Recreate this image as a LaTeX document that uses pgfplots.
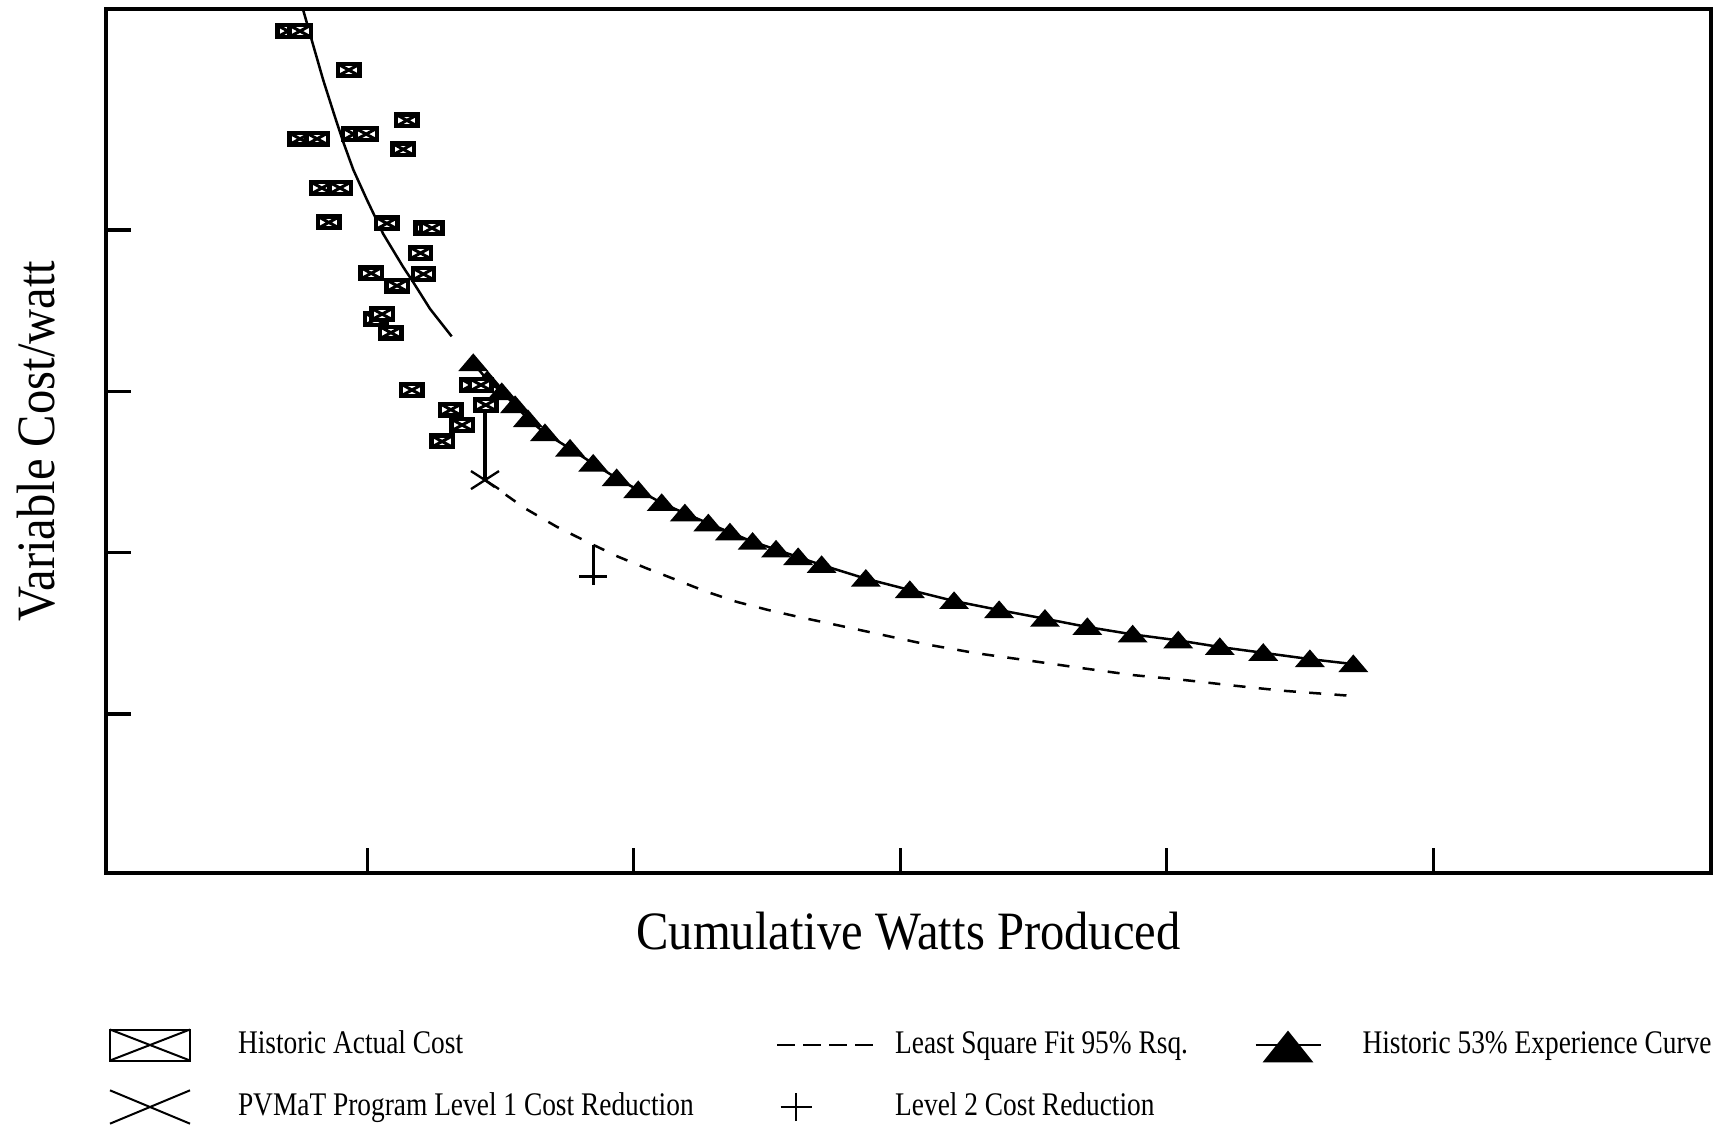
\documentclass[border=0pt]{standalone}
\usepackage{pgfplots}
\pgfplotsset{compat=1.18}
\usepackage{fontspec}
\setmainfont{Liberation Serif}
\newfontfamily\labfont{Liberation Serif}[FakeStretch=0.9]
\newfontfamily\legfont{Liberation Serif}[FakeStretch=0.83]

\pgfdeclareplotmark{boxx}{%
  \pgfsetlinewidth{1.3pt}%
  \pgfsetfillcolor{white}%
  \pgfpathrectangle{\pgfqpoint{-3.2pt}{-1.75pt}}{\pgfqpoint{6.4pt}{3.5pt}}%
  \pgfusepath{fill,stroke}%
  \pgfsetlinewidth{0.9pt}%
  \pgfpathmoveto{\pgfqpoint{-3.2pt}{-1.75pt}}\pgfpathlineto{\pgfqpoint{3.2pt}{1.75pt}}%
  \pgfpathmoveto{\pgfqpoint{-3.2pt}{1.75pt}}\pgfpathlineto{\pgfqpoint{3.2pt}{-1.75pt}}%
  \pgfusepathqstroke}
\pgfdeclareplotmark{ftri}{%
  \pgfsetfillcolor{black}%
  \pgfpathmoveto{\pgfqpoint{-4.5pt}{-2.4pt}}\pgfpathlineto{\pgfqpoint{4.5pt}{-2.4pt}}%
  \pgfpathlineto{\pgfqpoint{0pt}{2.9pt}}\pgfpathclose
  \pgfusepathqfill}
\pgfdeclareplotmark{wx}{%
  \pgfsetlinewidth{0.7pt}%
  \pgfpathmoveto{\pgfqpoint{-4.2pt}{-2.7pt}}\pgfpathlineto{\pgfqpoint{4.2pt}{2.7pt}}%
  \pgfpathmoveto{\pgfqpoint{-4.2pt}{2.7pt}}\pgfpathlineto{\pgfqpoint{4.2pt}{-2.7pt}}%
  \pgfusepathqstroke}
\pgfdeclareplotmark{wplus}{%
  \pgfsetlinewidth{0.8pt}%
  \pgfpathmoveto{\pgfqpoint{-4.2pt}{0pt}}\pgfpathlineto{\pgfqpoint{4.2pt}{0pt}}%
  \pgfpathmoveto{\pgfqpoint{0pt}{-2.4pt}}\pgfpathlineto{\pgfqpoint{0pt}{2.4pt}}%
  \pgfusepathqstroke}

\begin{document}
\begin{tikzpicture}
\begin{axis}[
  scale only axis, width=481.5pt, height=259.2pt,
  xmin=0.020, xmax=6.042, ymin=0.016, ymax=5.368,
  xtick={1,2,3,4,5}, ytick={1,2,3,4},
  xticklabels={}, yticklabels={},
  tick align=inside, xtick pos=left, ytick pos=left,
  major tick length=7.5pt,
  axis line style={line width=1.1pt},
  tick style={line width=1pt, black},
  xlabel={Cumulative Watts Produced},
  ylabel={Variable Cost/watt},
  xlabel style={font=\labfont\fontsize{16.2pt}{19pt}\selectfont, at={(axis description cs:0.5,-0.0891)}, anchor=base},
  ylabel style={font=\labfont\fontsize{16.2pt}{19pt}\selectfont, at={(axis description cs:-0.0320,0.5)}, anchor=base},
  legend columns=3, legend cell align=left,
  legend style={draw=none, fill=none, inner sep=0pt, outer sep=0pt,
    at={(0.00187,-0.16435)}, anchor=north west, row sep=0.6pt, column sep=0pt,
    nodes={inner sep=0pt, outer sep=0pt},
    font=\legfont\fontsize{9.9pt}{11pt}\selectfont},
]
% upper part of experience curve (no markers)
\addplot[forget plot, black, line width=0.75pt] coordinates {
(0.748,5.44) (0.760,5.361) (0.792,5.175) (0.835,4.928) (0.879,4.700) (0.910,4.545)
(0.948,4.372) (0.998,4.19) (1.060,3.975) (1.135,3.77) (1.173,3.675) (1.236,3.51) (1.317,3.34)};
% historic 53% experience curve
\addplot[forget plot, black, line width=0.75pt, mark=ftri] coordinates {
(1.398,3.175) (1.451,3.070) (1.505,2.995) (1.555,2.915) (1.603,2.828) (1.667,2.741)
(1.761,2.645) (1.848,2.552) (1.936,2.462) (2.017,2.388) (2.105,2.308) (2.192,2.244)
(2.280,2.182) (2.361,2.126) (2.446,2.068) (2.534,2.020) (2.617,1.973) (2.705,1.924)
(2.871,1.839) (3.036,1.769) (3.202,1.701) (3.371,1.645) (3.543,1.591) (3.702,1.540)
(3.872,1.494) (4.043,1.457) (4.199,1.416) (4.362,1.380) (4.537,1.341) (4.700,1.310)};
% least square fit
\addplot[forget plot, black, line width=0.75pt, dash pattern=on 3.6pt off 4pt] coordinates {
(1.442,2.450) (1.592,2.275) (1.711,2.161) (1.824,2.068) (1.942,1.975) (2.049,1.903)
(2.161,1.831) (2.274,1.758) (2.386,1.696) (2.505,1.645) (2.617,1.603) (2.793,1.541)
(3.099,1.432) (3.287,1.377) (3.487,1.331) (3.674,1.287) (3.873,1.242) (4.068,1.211)
(4.256,1.176) (4.436,1.145) (4.720,1.110)};
% drop lines
\addplot[forget plot, black, line width=1pt] coordinates {(1.442,2.93) (1.442,2.450)};
\addplot[forget plot, black, line width=0.8pt] coordinates {(1.848,2.049) (1.848,1.851)};
% historic actual cost
\addplot[forget plot, only marks, mark=boxx] coordinates {
(0.703,5.231) (0.748,5.231) (0.931,4.990) (1.149,4.678) (1.135,4.499)
(0.748,4.564) (0.812,4.564) (0.950,4.593) (0.996,4.593) (0.830,4.259) (0.898,4.259)
(0.856,4.046) (1.074,4.040) (1.221,4.011) (1.243,4.011) (1.200,3.856) (1.015,3.731)
(1.211,3.726) (1.112,3.654) (1.033,3.447) (1.056,3.478) (1.089,3.363) (1.168,3.008)
(1.314,2.886) (1.356,2.791) (1.281,2.689) (1.393,3.039) (1.427,3.039) (1.445,2.915)};
% level 1 and level 2
\addplot[forget plot, only marks, mark=wx] coordinates {(1.442,2.450)};
\addplot[forget plot, only marks, mark=wplus] coordinates {(1.848,1.851)};
% legend
\addlegendimage{legend image code/.code={
  \draw[black, line width=0.6pt] (0pt,-4.65pt) rectangle (24pt,4.65pt);
  \draw[black, line width=0.6pt] (0pt,-4.65pt) -- (24pt,4.65pt) (0pt,4.65pt) -- (24pt,-4.65pt);
  \path[draw=none, fill=none] (0pt,-9pt) rectangle (38.4pt,9pt);}}
\addlegendentry[text width=161.4pt, align=flush left]{Historic Actual Cost}
\addlegendimage{legend image code/.code={
  \draw[black, line width=0.7pt, dash pattern=on 5.4pt off 2.4pt] (0pt,0pt) -- (28.8pt,0pt);
  \path[draw=none, fill=none] (0pt,-9pt) rectangle (35.4pt,9pt);}}
\addlegendentry[text width=107.7pt, align=flush left]{Least Square Fit 95\% Rsq.}
\addlegendimage{legend image code/.code={
  \draw[black, line width=0.8pt] (0pt,0pt) -- (19.5pt,0pt);
  \fill[black] (2.55pt,-5pt) -- (16.95pt,-5pt) -- (9.75pt,4pt) -- cycle;
  \path[draw=none, fill=none] (0pt,-9pt) rectangle (32.1pt,9pt);}}
\addlegendentry[text width=110pt, align=flush left]{Historic 53\% Experience Curve}
\addlegendimage{legend image code/.code={
  \draw[black, line width=0.6pt] (0pt,-5pt) -- (24pt,5pt) (0pt,5pt) -- (24pt,-5pt);
  \path[draw=none, fill=none] (0pt,-9pt) rectangle (38.4pt,9pt);}}
\addlegendentry[text width=161.4pt, align=flush left]{PVMaT Program Level 1 Cost Reduction}
\addlegendimage{legend image code/.code={
  \draw[black, line width=0.6pt] (1.05pt,0pt) -- (10.35pt,0pt) (5.7pt,-4.2pt) -- (5.7pt,4.2pt);
  \path[draw=none, fill=none] (0pt,-9pt) rectangle (35.4pt,9pt);}}
\addlegendentry[text width=107.7pt, align=flush left]{Level 2 Cost Reduction}
\end{axis}
\pgfresetboundingbox
\path (current axis.south west) ++(-31.8pt,-75.6pt) rectangle ++(514.2pt,337.5pt);
\end{tikzpicture}
\end{document}
